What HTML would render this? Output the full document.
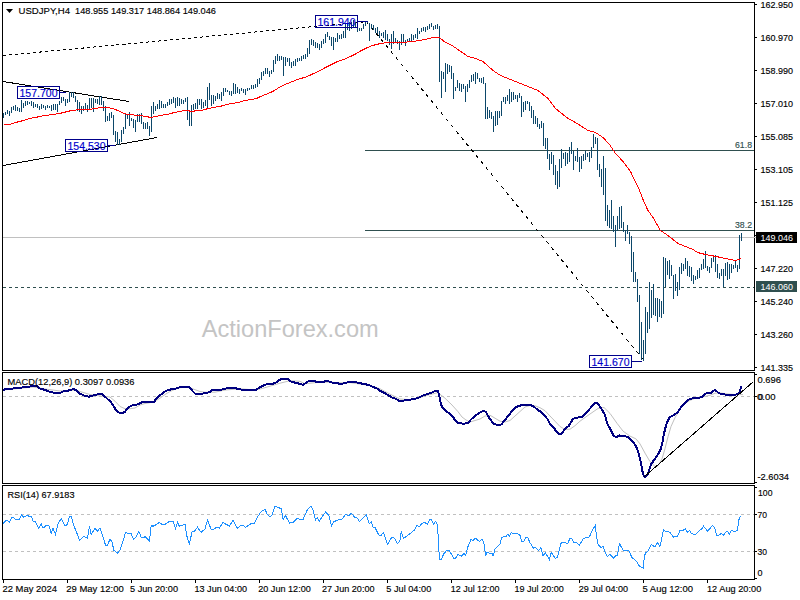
<!DOCTYPE html><html><head><meta charset="utf-8"><title>USDJPY H4</title><style>
html,body{margin:0;padding:0;width:800px;height:600px;overflow:hidden;background:#fff}
svg{position:absolute;left:0;top:0;display:block}
text{font-family:"Liberation Sans", sans-serif;}
</style></head><body>
<svg width="800" height="600" viewBox="0 0 800 600">
<g fill="none" stroke="#000" stroke-width="1" shape-rendering="crispEdges">
<rect x="2.5" y="2.5" width="752" height="368"/>
<rect x="2.5" y="372.5" width="752" height="111"/>
<rect x="2.5" y="485.5" width="752" height="94"/>
<path d="M755 4.5H757M755 37.5H757M755 70.5H757M755 103.5H757M755 136.5H757M755 169.5H757M755 202.5H757M755 235.5H757M755 268.5H757M755 301.5H757M755 334.5H757M755 367.5H757M755 374.5H757M755 396.5H757M755 482.5H757M755 487.5H757M755 514.5H757M755 551.5H757M755 578.5H757"/>
<path d="M3.5 580V583M67.5 580V583M131.5 580V583M195.5 580V583M259.5 580V583M323.5 580V583M387.5 580V583M451.5 580V583M515.5 580V583M579.5 580V583M643.5 580V583M707.5 580V583"/>
</g>
<g shape-rendering="crispEdges" fill="none">
<path d="M3 237.5H756" stroke="#c0c0c0"/>
<path d="M3 287.5H754" stroke="#2f4f4f" stroke-dasharray="3,3"/>
<path d="M365 150.5H754M365 230.5H754" stroke="#2f4f4f"/>
</g>
<text x="201.7" y="337" font-size="24px" fill="#c4c4c4" textLength="177" lengthAdjust="spacingAndGlyphs">ActionForex.com</text>
<g fill="none" stroke="#000" stroke-width="1" shape-rendering="crispEdges">
<path d="M3 81.5L129 101.5"/>
<path d="M3 165.5L157 137.5"/>
</g>
<g fill="none" stroke="#000" stroke-width="1" shape-rendering="crispEdges">
<path d="M3 55.5L365 21.8" stroke-dasharray="3,3"/>
<path d="M366 21L644 360.5" stroke-dasharray="3.5,4.4"/>
</g>
<path d="M3.5 113V118M5.5 112V115M7.5 110V114M9.5 111V116M11.5 107V113M13.5 106V110M15.5 105V111M17.5 107V111M19.5 108V112M21.5 100V112M23.5 103V108M25.5 101V106M27.5 101V105M29.5 102V104M31.5 101V106M33.5 102V108M35.5 104V107M37.5 104V108M39.5 106V110M41.5 104V109M43.5 105V108M45.5 106V110M47.5 105V108M49.5 106V108M51.5 105V111M53.5 104V110M55.5 104V110M57.5 104V112M59.5 101V105M61.5 97V103M63.5 97V101M65.5 99V106M67.5 99V103M69.5 92V102M71.5 92V97M73.5 92V98M75.5 96V102M77.5 100V111M79.5 102V112M81.5 106V114M83.5 106V111M85.5 103V110M87.5 105V112M89.5 98V109M91.5 98V108M93.5 98V112M95.5 99V103M97.5 99V104M99.5 96V105M101.5 96V105M103.5 101V111M105.5 106V122M107.5 116V121M109.5 113V121M111.5 112V118M113.5 115V135M115.5 131V142M117.5 132V145M119.5 139V145M121.5 130V142M123.5 127V134M125.5 114V129M127.5 114V119M129.5 112V126M131.5 118V121M133.5 119V128M135.5 120V132M137.5 114V122M139.5 114V122M141.5 113V124M143.5 122V129M145.5 123V129M147.5 122V129M149.5 126V136M151.5 106V132M153.5 102V114M155.5 106V111M157.5 104V109M159.5 100V109M161.5 101V108M163.5 104V108M165.5 104V108M167.5 102V106M169.5 99V105M171.5 99V104M173.5 97V103M175.5 98V108M177.5 97V106M179.5 98V106M181.5 99V104M183.5 100V104M185.5 98V102M187.5 97V120M189.5 111V126M191.5 105V126M193.5 104V110M195.5 103V109M197.5 99V109M199.5 99V105M201.5 99V109M203.5 102V108M205.5 100V106M207.5 87V108M209.5 83V100M211.5 95V106M213.5 95V104M215.5 96V101M217.5 93V99M219.5 94V99M221.5 92V101M223.5 88V96M225.5 88V92M227.5 90V92M229.5 91V95M231.5 91V96M233.5 83V94M235.5 84V94M237.5 87V93M239.5 89V94M241.5 88V91M243.5 89V93M245.5 89V95M247.5 88V91M249.5 88V90M251.5 85V89M253.5 85V89M255.5 84V88M257.5 79V87M259.5 78V84M261.5 72V80M263.5 71V76M265.5 68V74M267.5 68V74M269.5 71V77M271.5 70V74M273.5 60V72M275.5 56V64M277.5 54V61M279.5 56V61M281.5 56V60M283.5 57V76M285.5 57V66M287.5 58V62M289.5 58V66M291.5 62V68M293.5 61V66M295.5 59V66M297.5 58V62M299.5 58V61M301.5 56V61M303.5 55V59M305.5 54V59M307.5 48V57M309.5 40V54M311.5 39V45M313.5 40V46M315.5 42V48M317.5 43V48M319.5 44V50M321.5 41V48M323.5 39V44M325.5 34V43M327.5 32V37M329.5 36V40M331.5 37V46M333.5 37V50M335.5 38V42M337.5 33V42M339.5 35V39M341.5 34V39M343.5 31V38M345.5 24V38M347.5 24V30M349.5 22V31M351.5 22V29M353.5 20V27M355.5 22V28M357.5 22V32M359.5 28V31M361.5 28V31M363.5 24V29M365.5 22V26M367.5 21V23M369.5 23V41M371.5 24V29M373.5 25V30M375.5 28V33M377.5 27V34M379.5 31V38M381.5 33V36M383.5 32V38M385.5 30V40M387.5 34V41M389.5 39V45M391.5 34V49M393.5 31V44M395.5 38V42M397.5 40V44M399.5 41V50M401.5 34V45M403.5 34V42M405.5 40V46M407.5 39V42M409.5 38V42M411.5 34V41M413.5 35V40M415.5 34V38M417.5 28V39M419.5 31V34M421.5 28V32M423.5 27V31M425.5 27V32M427.5 26V30M429.5 24V29M431.5 23V27M433.5 26V30M435.5 25V29M437.5 24V29M439.5 26V82M441.5 71V98M443.5 72V79M445.5 63V92M447.5 64V74M449.5 65V72M451.5 66V79M453.5 73V99M455.5 87V91M457.5 80V88M459.5 83V91M461.5 84V92M463.5 84V89M465.5 86V102M467.5 84V92M469.5 80V88M471.5 75V82M473.5 74V81M475.5 72V84M477.5 73V79M479.5 78V82M481.5 78V83M483.5 77V84M485.5 83V119M487.5 107V119M489.5 110V118M491.5 112V119M493.5 116V132M495.5 111V126M497.5 111V125M499.5 111V118M501.5 101V116M503.5 97V102M505.5 97V104M507.5 95V101M509.5 89V104M511.5 92V102M513.5 92V100M515.5 95V99M517.5 95V102M519.5 93V98M521.5 96V117M523.5 102V112M525.5 101V110M527.5 101V104M529.5 102V111M531.5 106V118M533.5 110V124M535.5 116V124M537.5 118V127M539.5 124V129M541.5 121V128M543.5 123V146M545.5 138V149M547.5 138V159M549.5 154V170M551.5 152V164M553.5 155V175M555.5 165V185M557.5 171V189M559.5 159V187M561.5 149V168M563.5 153V159M565.5 152V166M567.5 153V164M569.5 147V162M571.5 142V154M573.5 151V170M575.5 156V161M577.5 148V162M579.5 157V172M581.5 156V169M583.5 154V161M585.5 151V160M587.5 153V157M589.5 152V162M591.5 147V158M593.5 134V148M595.5 137V144M597.5 138V170M599.5 164V177M601.5 169V187M603.5 156V195M605.5 168V221M607.5 205V226M609.5 210V228M611.5 200V229M613.5 216V232M615.5 225V247M617.5 216V231M619.5 207V229M621.5 206V228M623.5 222V232M625.5 230V241M627.5 225V234M629.5 232V244M631.5 236V272M633.5 252V282M635.5 272V282M637.5 279V302M639.5 295V354M641.5 322V360M643.5 340V361M645.5 307V354M647.5 312V333M649.5 282V329M651.5 290V318M653.5 284V315M655.5 298V316M657.5 298V322M659.5 299V317M661.5 301V318M663.5 257V314M665.5 258V287M667.5 261V275M669.5 260V279M671.5 265V276M673.5 275V299M675.5 274V291M677.5 282V296M679.5 267V290M681.5 263V274M683.5 264V271M685.5 258V269M687.5 261V276M689.5 266V277M691.5 267V281M693.5 275V284M695.5 276V280M697.5 270V279M699.5 268V278M701.5 264V270M703.5 259V269M705.5 251V268M707.5 266V271M709.5 267V273M711.5 258V268M713.5 256V262M715.5 255V272M717.5 264V278M719.5 273V279M721.5 269V276M723.5 269V287M725.5 263V276M727.5 262V280M729.5 264V279M731.5 264V273M733.5 265V269M735.5 261V268M737.5 265V272M739.5 235V269M741.5 233V241" stroke="#0c476a" stroke-width="1" fill="none" shape-rendering="crispEdges"/>
<polyline points="3.5,124.5 9.5,124.5 15.5,122.5 23.5,120.5 29.5,118.5 35.5,117.5 39.5,116.5 45.5,115.5 53.5,114.5 59.5,113.5 63.5,112.5 67.5,111.5 71.5,110.5 80.5,109.5 88.5,109.5 95.5,108.5 100.5,107.5 106.5,107.5 112.5,108.5 115.5,109.5 117.5,110.5 120.5,111.5 123.5,113.5 128.5,114.5 138.5,115.5 146.5,116.5 150.5,117.5 155.5,116.5 160.5,115.5 165.5,114.5 167.5,114.5 170.5,113.5 174.5,112.5 179.5,111.5 185.5,110.5 188.5,110.5 190.5,111.5 193.5,111.5 195.5,110.5 201.5,110.5 204.5,109.5 208.5,108.5 213.5,107.5 219.5,106.5 223.5,105.5 226.5,104.5 232.5,103.5 238.5,102.5 244.5,100.5 251.5,99.5 256.5,98.5 260.5,96.5 265.5,94.5 270.5,92.5 274.5,90.5 280.5,86.5 287.5,83.5 292.5,81.5 297.5,79.5 300.5,78.5 304.5,77.5 309.5,75.5 313.5,73.5 318.5,71.5 325.5,67.5 331.5,64.5 337.5,61.5 343.5,59.5 350.5,56.5 356.5,53.5 361.5,50.5 367.5,47.5 372.5,45.5 380.5,43.5 388.0,42.5 400.5,42.5 413.0,41.5 425.5,39.5 433.0,37.5 439.2,37.5 445.5,42.5 450.5,44.5 456.5,48.5 468.0,56.5 475.5,58.5 483.0,61.5 493.0,70.5 500.5,75.5 513.0,80.5 525.5,85.5 538.0,90.5 548.0,98.5 555.5,108.5 568.0,118.5 575.5,122.5 588.0,130.5 595.5,132.5 603.0,137.5 609.5,144.5 615.5,153.5 623.0,161.5 630.5,171.5 639.2,189.5 644.2,202.5 648.0,210.5 653.0,217.5 660.5,230.5 668.0,235.5 678.0,243.5 685.5,246.5 693.0,249.5 697.5,252.5 705.5,254.5 716.2,256.5 725.5,258.5 736.0,260.5 741.5,258.5" fill="none" stroke="#ff0000" stroke-width="1" shape-rendering="crispEdges"/>
<rect x="17.5" y="86.5" width="42" height="12" fill="none" stroke="#00008b" shape-rendering="crispEdges"/>
<path d="M60 92.5H66" stroke="#00008b" shape-rendering="crispEdges"/>
<text x="19.5" y="96.5" font-size="11px" fill="#0000cd" stroke="#0000cd" stroke-width="0.15" textLength="38" lengthAdjust="spacingAndGlyphs">157.700</text>
<rect x="65.5" y="139.5" width="42" height="12" fill="none" stroke="#00008b" shape-rendering="crispEdges"/>
<path d="M108 145.5H115" stroke="#00008b" shape-rendering="crispEdges"/>
<text x="67.5" y="149.5" font-size="11px" fill="#0000cd" stroke="#0000cd" stroke-width="0.15" textLength="38" lengthAdjust="spacingAndGlyphs">154.530</text>
<rect x="315.5" y="15.5" width="42" height="12" fill="none" stroke="#00008b" shape-rendering="crispEdges"/>
<path d="M358 21.5H368" stroke="#00008b" shape-rendering="crispEdges"/>
<text x="317.5" y="25.5" font-size="11px" fill="#0000cd" stroke="#0000cd" stroke-width="0.15" textLength="38" lengthAdjust="spacingAndGlyphs">161.940</text>
<rect x="589.5" y="355.5" width="42" height="12" fill="none" stroke="#00008b" shape-rendering="crispEdges"/>
<path d="M632 361.5H642" stroke="#00008b" shape-rendering="crispEdges"/>
<text x="591.5" y="365.5" font-size="11px" fill="#0000cd" stroke="#0000cd" stroke-width="0.15" textLength="38" lengthAdjust="spacingAndGlyphs">141.670</text>
<text x="735" y="148" font-size="9.8px" fill="#2f4f4f" stroke="#2f4f4f" stroke-width="0.15" textLength="17" lengthAdjust="spacingAndGlyphs">61.8</text>
<text x="735" y="228" font-size="9.8px" fill="#2f4f4f" stroke="#2f4f4f" stroke-width="0.15" textLength="17" lengthAdjust="spacingAndGlyphs">38.2</text>
<path d="M6 9H13L9.5 13Z" fill="#000"/>
<text x="18.5" y="14" font-size="9.8px" fill="#000" stroke="#000" stroke-width="0.15" textLength="51.5" lengthAdjust="spacingAndGlyphs">USDJPY,H4</text>
<text x="75" y="14" font-size="9.8px" fill="#000" stroke="#000" stroke-width="0.15" textLength="141" lengthAdjust="spacingAndGlyphs">148.955 149.317 148.864 149.046</text>
<text x="760.5" y="8" font-size="9.8px" fill="#000" stroke="#000" stroke-width="0.15" textLength="32.5" lengthAdjust="spacingAndGlyphs">162.950</text>
<text x="760.5" y="41" font-size="9.8px" fill="#000" stroke="#000" stroke-width="0.15" textLength="32.5" lengthAdjust="spacingAndGlyphs">160.970</text>
<text x="760.5" y="74" font-size="9.8px" fill="#000" stroke="#000" stroke-width="0.15" textLength="32.5" lengthAdjust="spacingAndGlyphs">158.990</text>
<text x="760.5" y="107" font-size="9.8px" fill="#000" stroke="#000" stroke-width="0.15" textLength="32.5" lengthAdjust="spacingAndGlyphs">157.010</text>
<text x="760.5" y="140" font-size="9.8px" fill="#000" stroke="#000" stroke-width="0.15" textLength="32.5" lengthAdjust="spacingAndGlyphs">155.085</text>
<text x="760.5" y="173" font-size="9.8px" fill="#000" stroke="#000" stroke-width="0.15" textLength="32.5" lengthAdjust="spacingAndGlyphs">153.105</text>
<text x="760.5" y="206" font-size="9.8px" fill="#000" stroke="#000" stroke-width="0.15" textLength="32.5" lengthAdjust="spacingAndGlyphs">151.125</text>
<text x="760.5" y="272" font-size="9.8px" fill="#000" stroke="#000" stroke-width="0.15" textLength="32.5" lengthAdjust="spacingAndGlyphs">147.220</text>
<text x="760.5" y="305" font-size="9.8px" fill="#000" stroke="#000" stroke-width="0.15" textLength="32.5" lengthAdjust="spacingAndGlyphs">145.240</text>
<text x="760.5" y="338" font-size="9.8px" fill="#000" stroke="#000" stroke-width="0.15" textLength="32.5" lengthAdjust="spacingAndGlyphs">143.260</text>
<text x="760.5" y="371" font-size="9.8px" fill="#000" stroke="#000" stroke-width="0.15" textLength="32.5" lengthAdjust="spacingAndGlyphs">141.335</text>
<rect x="756" y="232" width="41" height="11" fill="#000"/>
<text x="760.5" y="241" font-size="9.8px" fill="#fff" textLength="32.5" lengthAdjust="spacingAndGlyphs">149.046</text>
<rect x="756" y="281" width="41" height="11" fill="#2f4f4f"/>
<text x="760.5" y="290" font-size="9.8px" fill="#fff" textLength="32.5" lengthAdjust="spacingAndGlyphs">146.060</text>
<path d="M3 396.5H754" stroke="#c0c0c0" stroke-dasharray="3,3" shape-rendering="crispEdges"/>
<polyline points="3.0,390.0 33.0,387.0 45.0,389.0 60.0,391.0 75.0,390.0 90.0,394.5 100.0,396.0 110.0,397.0 115.0,401.2 120.0,406.5 125.0,408.7 130.0,408.7 135.0,408.0 140.0,405.0 145.0,403.5 150.0,402.7 155.0,401.2 160.0,398.2 165.0,394.5 170.0,391.5 175.0,389.2 180.0,387.7 185.0,387.3 190.0,387.7 195.0,389.7 200.0,391.5 205.0,392.2 215.0,392.2 225.0,390.0 240.0,388.8 255.0,390.0 262.0,388.5 270.0,386.2 280.0,383.2 290.0,380.7 300.0,381.3 305.0,383.7 310.0,383.2 320.0,382.2 330.0,382.2 340.0,382.8 350.0,382.6 360.0,384.0 370.0,385.5 380.0,388.8 390.0,394.2 400.0,399.0 410.0,399.7 420.0,397.5 430.0,394.5 438.0,392.7 445.0,398.2 452.0,405.0 458.0,411.7 462.0,417.0 466.0,420.0 470.0,422.0 480.0,419.0 485.0,416.0 490.0,415.2 495.0,418.2 500.0,421.2 505.0,422.0 510.0,420.5 515.0,416.0 520.0,411.5 525.0,407.0 530.0,405.5 535.0,405.8 540.0,407.7 545.0,410.7 550.0,416.0 555.0,421.2 560.0,426.5 565.0,429.5 570.0,429.2 575.0,425.7 580.0,421.2 585.0,417.5 590.0,414.0 598.0,408.5 604.0,407.5 610.0,413.4 617.0,423.3 623.0,431.1 630.0,436.1 636.0,438.9 640.0,443.9 645.0,453.1 650.0,461.6 655.0,466.5 658.0,465.8 662.0,458.9 665.0,448.6 668.0,436.7 671.0,426.5 675.0,417.7 680.0,409.0 685.0,403.5 690.0,400.3 695.0,398.4 700.0,397.5 710.0,395.3 715.0,393.2 720.0,393.0 728.0,394.0 735.0,394.6 743.0,394.6" fill="none" stroke="#c0c0c0" stroke-width="1"/>
<polyline points="3.0,389.7 10.0,388.8 20.0,387.7 28.0,386.7 33.0,386.2 37.0,386.2 40.0,388.5 45.0,390.0 50.0,391.8 55.0,393.0 60.0,393.0 63.0,391.5 68.0,390.7 72.0,389.5 74.0,389.2 77.0,390.7 80.0,393.7 85.0,396.0 89.0,396.7 92.0,395.7 97.0,394.5 102.0,394.2 105.0,396.7 110.0,401.2 113.0,405.0 116.0,410.2 119.0,412.5 123.0,412.8 125.0,411.7 128.0,408.0 131.0,405.7 135.0,405.0 138.0,404.2 141.0,402.7 144.0,401.7 148.0,401.7 150.0,402.3 154.0,402.0 156.0,399.0 160.0,395.2 164.0,392.2 168.0,390.0 172.0,389.2 176.0,388.5 180.0,387.3 184.0,386.7 188.0,386.7 190.0,387.7 193.0,391.5 196.0,394.5 200.0,394.2 205.0,393.0 210.0,392.2 212.0,390.0 216.0,390.0 222.0,389.5 227.0,388.2 230.0,388.5 235.0,387.7 238.0,389.2 243.0,389.7 246.0,390.3 256.0,390.3 258.0,388.5 262.0,386.2 265.0,384.7 270.0,383.7 273.0,383.7 276.0,382.5 279.0,380.2 282.0,378.7 286.0,378.7 288.0,379.2 290.0,381.0 293.0,382.2 296.0,382.8 300.0,384.0 303.0,384.7 306.0,382.8 309.0,381.0 313.0,380.7 316.0,381.7 320.0,381.7 323.0,382.5 326.0,380.7 330.0,381.7 333.0,382.8 337.0,383.2 341.0,384.0 344.0,383.2 347.0,382.5 350.0,381.9 357.0,382.5 365.0,384.3 368.0,384.7 373.0,387.0 377.0,388.5 380.0,390.7 384.0,392.7 388.0,395.2 392.0,397.5 396.0,399.0 399.0,400.8 402.0,400.8 406.0,400.2 410.0,399.7 415.0,399.0 419.0,397.5 422.0,396.0 426.0,394.5 430.0,393.3 434.0,391.5 437.0,390.7 438.0,390.7 439.0,394.5 440.0,399.7 441.0,405.0 444.0,409.5 448.0,412.5 452.0,415.5 455.0,420.0 458.0,423.0 463.0,423.7 468.0,423.3 470.0,420.5 474.0,416.7 478.0,413.7 482.0,411.5 484.0,410.7 486.0,412.2 488.0,416.0 490.0,419.0 492.0,421.7 494.0,423.8 497.0,425.0 500.0,425.0 502.0,423.8 504.0,421.2 507.0,417.5 510.0,413.7 513.0,410.0 516.0,407.3 519.0,405.8 522.0,405.2 530.0,405.2 533.0,405.8 536.0,408.5 539.0,410.7 542.0,412.7 545.0,416.0 548.0,419.7 550.0,424.2 553.0,426.5 555.0,429.5 557.0,432.5 559.0,434.0 561.0,434.0 563.0,431.7 566.0,428.0 569.0,425.7 571.0,422.0 573.0,419.0 576.0,417.8 580.0,417.2 582.0,416.7 585.0,413.7 588.0,410.7 590.0,408.5 595.0,402.8 598.0,403.5 602.0,409.9 605.0,414.8 607.0,423.3 610.0,428.3 613.0,434.7 616.0,437.5 619.0,435.4 622.0,436.0 628.0,436.8 633.0,441.7 637.0,448.1 639.0,454.5 641.0,463.0 643.0,474.3 645.0,476.9 648.0,474.3 651.0,464.4 656.0,457.3 660.0,451.0 662.0,444.7 664.0,433.6 666.0,425.7 668.0,420.1 670.0,417.0 673.0,415.4 677.0,413.0 680.0,409.0 682.0,405.9 685.0,402.7 688.0,400.0 692.0,398.4 697.0,397.5 700.0,397.5 703.0,396.4 705.0,394.0 708.0,392.7 711.0,392.7 713.0,391.3 715.0,390.0 718.0,392.4 721.0,394.0 725.0,394.5 730.0,394.8 735.0,394.8 737.0,394.3 739.0,393.2 741.5,386.5" fill="none" stroke="#000080" stroke-width="2" stroke-linejoin="round" shape-rendering="crispEdges"/>
<path d="M644 477L753 382" stroke="#000" stroke-width="1" fill="none" shape-rendering="crispEdges"/>
<text x="7.5" y="385" font-size="9.8px" fill="#000" stroke="#000" stroke-width="0.15" textLength="127" lengthAdjust="spacingAndGlyphs">MACD(12,26,9) 0.3097 0.0936</text>
<text x="757.5" y="383" font-size="9.8px" fill="#000" stroke="#000" stroke-width="0.15" textLength="23.5" lengthAdjust="spacingAndGlyphs">0.696</text>
<text x="757" y="400" font-size="9.8px" fill="#000" stroke="#000" stroke-width="0.15" textLength="18.5" lengthAdjust="spacingAndGlyphs">0.00</text>
<text x="758" y="399.5" font-size="9.8px" fill="#000">0</text>
<text x="757.5" y="479.5" font-size="9.8px" fill="#000" stroke="#000" stroke-width="0.15" textLength="31.5" lengthAdjust="spacingAndGlyphs">-2.6034</text>
<path d="M3 514.5H754M3 551.5H754" stroke="#c0c0c0" stroke-dasharray="3,3" shape-rendering="crispEdges"/>
<polyline points="3.1,523.5 6.2,520.2 9.4,521.9 11.9,517.2 13.1,517.5 15.6,519.4 19.4,519.4 21.5,514.8 23.8,517.2 27.2,515.6 29.0,516.2 31.2,516.5 33.5,521.9 35.0,521.2 38.8,528.1 41.2,523.8 43.1,528.1 46.9,525.0 48.8,525.6 51.2,533.1 53.1,528.1 55.4,534.4 58.1,523.8 61.2,518.5 65.0,526.2 67.5,524.4 69.4,516.5 71.2,516.5 73.8,525.6 76.2,531.2 79.4,540.4 83.8,536.2 87.5,538.5 89.4,526.5 91.2,534.4 95.0,528.1 97.5,531.2 100.0,528.1 102.5,535.0 105.6,545.6 107.5,545.0 110.0,539.4 111.9,541.2 113.8,550.2 117.5,553.1 120.0,549.8 122.5,542.5 125.6,532.5 128.8,533.5 131.2,533.5 133.5,539.4 135.6,537.8 138.8,531.2 141.2,537.2 143.1,538.1 145.2,536.5 149.4,541.2 151.2,525.6 153.1,526.2 155.6,525.0 159.4,522.5 161.9,524.4 165.0,524.4 169.4,521.5 173.1,521.5 175.4,528.5 177.5,522.2 179.4,526.2 181.2,525.6 185.0,524.4 186.9,536.2 189.4,544.4 191.9,532.2 194.4,531.2 197.5,527.2 200.0,531.0 201.2,532.2 205.0,529.0 207.5,520.2 211.2,529.4 213.5,529.4 216.9,527.2 219.4,528.1 223.1,522.5 226.2,524.4 229.4,526.0 233.1,520.2 237.5,528.5 240.6,525.2 243.1,525.6 245.6,527.2 249.4,524.8 251.9,523.1 253.8,524.0 257.5,516.9 261.2,511.5 265.0,509.4 267.5,514.8 270.0,517.2 271.9,515.2 275.0,506.2 278.8,507.8 281.2,508.5 283.1,519.4 285.6,515.6 289.4,523.1 293.1,522.5 296.9,518.5 300.0,519.4 303.1,519.4 307.5,509.4 311.0,506.2 313.1,510.0 315.6,520.0 317.2,517.5 319.4,521.2 322.5,516.2 325.6,512.2 328.8,515.0 331.5,526.0 333.8,521.9 338.1,519.8 341.2,520.0 345.6,514.4 348.8,515.6 351.2,513.1 355.0,517.5 356.9,517.5 359.4,521.5 366.2,515.0 369.4,523.8 371.2,521.9 373.1,527.5 375.0,527.5 378.8,535.0 381.2,535.2 383.5,532.5 387.5,544.4 391.9,537.2 394.4,538.1 397.5,543.5 400.0,540.6 401.2,531.2 402.2,535.0 403.5,538.1 406.9,536.2 410.6,533.1 414.4,530.0 416.9,525.6 419.4,526.5 421.9,523.5 425.0,522.5 427.5,524.4 430.0,519.4 431.5,519.8 433.5,524.0 435.6,521.5 437.5,525.0 438.1,535.0 439.4,559.4 441.2,559.4 443.8,553.8 446.9,550.2 449.4,550.6 453.8,558.5 455.6,558.1 457.8,554.4 461.2,556.2 463.8,553.5 465.6,555.2 468.1,546.2 471.2,539.0 473.1,541.2 475.0,537.8 479.4,541.5 481.9,539.4 483.8,542.5 485.0,550.6 485.6,556.2 486.9,552.5 492.5,553.8 493.1,556.2 495.0,548.8 497.5,546.2 500.0,544.4 501.5,538.1 503.8,536.2 505.6,536.9 507.8,534.4 509.4,536.2 511.5,532.5 513.8,534.0 515.6,533.1 518.1,534.0 519.8,534.8 521.9,541.5 523.8,541.2 526.0,537.2 527.8,537.5 530.0,542.8 533.5,548.1 535.0,547.2 538.8,550.6 541.0,547.5 543.1,556.2 545.2,552.5 549.4,559.4 551.2,552.5 555.6,558.5 557.5,556.9 561.2,542.8 564.4,542.2 567.5,543.8 570.0,538.5 571.9,538.8 573.8,542.2 576.2,542.2 579.4,545.0 583.5,538.5 587.5,537.2 589.4,536.9 593.1,528.8 595.2,525.6 597.5,542.8 599.4,546.2 601.5,547.8 603.1,546.2 604.8,551.9 607.5,556.5 609.8,554.4 613.8,558.5 615.6,555.6 617.5,555.2 619.4,543.5 623.1,550.2 625.6,550.2 628.8,550.6 631.9,557.5 633.8,559.0 636.2,561.0 639.4,566.2 643.1,567.8 644.4,556.5 645.6,552.5 647.5,551.9 651.2,544.4 655.0,546.9 657.5,542.8 659.8,546.5 661.5,540.0 663.5,529.8 665.6,531.5 668.5,531.5 670.6,533.1 673.5,537.2 677.5,536.2 680.0,530.5 683.0,530.5 685.2,528.8 687.5,532.2 689.5,530.5 691.5,533.5 694.0,534.5 696.0,534.2 700.5,529.5 701.5,529.2 703.5,526.2 707.5,531.2 712.5,525.5 714.5,527.5 717.0,536.2 719.0,535.2 721.2,533.5 723.2,535.5 727.0,530.8 729.2,534.2 731.5,530.2 733.5,531.2 735.5,531.5 737.2,530.5 738.0,526.5 738.8,520.0 740.0,516.8 740.5,516.2" fill="none" stroke="#1e90ff" stroke-width="1" shape-rendering="crispEdges"/>
<text x="7.5" y="498" font-size="9.8px" fill="#000" stroke="#000" stroke-width="0.15" textLength="67" lengthAdjust="spacingAndGlyphs">RSI(14) 67.9183</text>
<text x="758" y="496" font-size="9.8px" fill="#000" stroke="#000" stroke-width="0.15" textLength="14.5" lengthAdjust="spacingAndGlyphs">100</text>
<text x="757.5" y="518" font-size="9.8px" fill="#000" stroke="#000" stroke-width="0.15" textLength="9.5" lengthAdjust="spacingAndGlyphs">70</text>
<text x="757.5" y="555" font-size="9.8px" fill="#000" stroke="#000" stroke-width="0.15" textLength="9.5" lengthAdjust="spacingAndGlyphs">30</text>
<text x="757.5" y="576" font-size="9.8px" fill="#000" stroke="#000" stroke-width="0.15" textLength="5" lengthAdjust="spacingAndGlyphs">0</text>
<text x="2.5" y="592" font-size="9.8px" fill="#000" stroke="#000" stroke-width="0.15" textLength="54.5" lengthAdjust="spacingAndGlyphs">22 May 2024</text>
<text x="66.25" y="592" font-size="9.8px" fill="#000" stroke="#000" stroke-width="0.15" textLength="57.5" lengthAdjust="spacingAndGlyphs">29 May 12:00</text>
<text x="130" y="592" font-size="9.8px" fill="#000" stroke="#000" stroke-width="0.15" textLength="48" lengthAdjust="spacingAndGlyphs">5 Jun 20:00</text>
<text x="194.5" y="592" font-size="9.8px" fill="#000" stroke="#000" stroke-width="0.15" textLength="52.5" lengthAdjust="spacingAndGlyphs">13 Jun 04:00</text>
<text x="258.25" y="592" font-size="9.8px" fill="#000" stroke="#000" stroke-width="0.15" textLength="52.5" lengthAdjust="spacingAndGlyphs">20 Jun 12:00</text>
<text x="322" y="592" font-size="9.8px" fill="#000" stroke="#000" stroke-width="0.15" textLength="52.5" lengthAdjust="spacingAndGlyphs">27 Jun 20:00</text>
<text x="386.25" y="592" font-size="9.8px" fill="#000" stroke="#000" stroke-width="0.15" textLength="45" lengthAdjust="spacingAndGlyphs">5 Jul 04:00</text>
<text x="450.75" y="592" font-size="9.8px" fill="#000" stroke="#000" stroke-width="0.15" textLength="48.75" lengthAdjust="spacingAndGlyphs">12 Jul 12:00</text>
<text x="514.5" y="592" font-size="9.8px" fill="#000" stroke="#000" stroke-width="0.15" textLength="49.25" lengthAdjust="spacingAndGlyphs">19 Jul 20:00</text>
<text x="578.75" y="592" font-size="9.8px" fill="#000" stroke="#000" stroke-width="0.15" textLength="49.25" lengthAdjust="spacingAndGlyphs">29 Jul 04:00</text>
<text x="642.5" y="592" font-size="9.8px" fill="#000" stroke="#000" stroke-width="0.15" textLength="50.5" lengthAdjust="spacingAndGlyphs">5 Aug 12:00</text>
<text x="707" y="592" font-size="9.8px" fill="#000" stroke="#000" stroke-width="0.15" textLength="54.25" lengthAdjust="spacingAndGlyphs">12 Aug 20:00</text>
</svg></body></html>
